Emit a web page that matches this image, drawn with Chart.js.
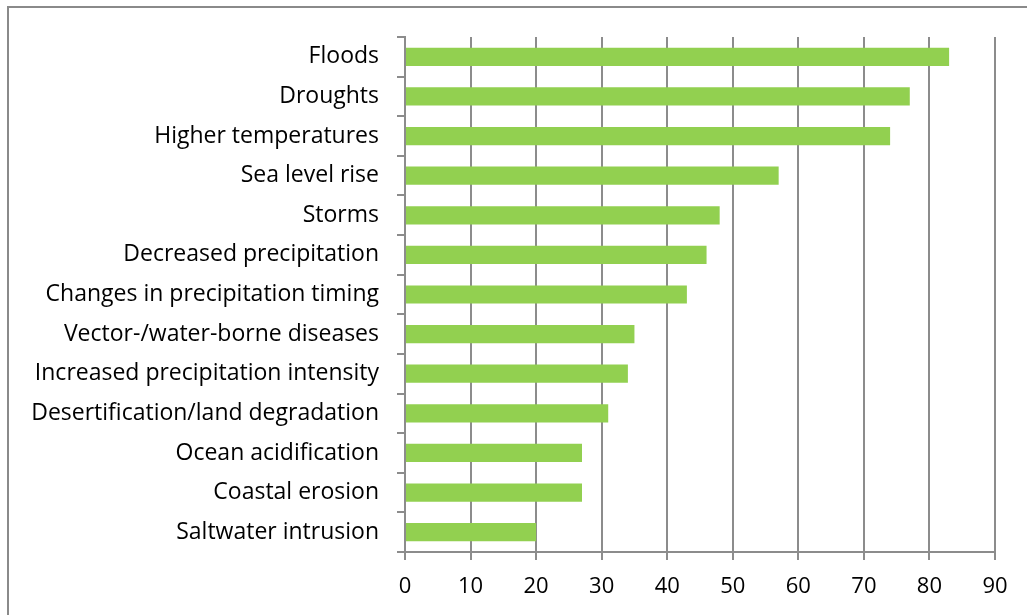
<!DOCTYPE html>
<html lang="en">
<head>
<meta charset="UTF-8">
<title>Climate hazards</title>
<script src="https://cdn.jsdelivr.net/npm/chart.js"></script>
<style>
  html, body { margin: 0; padding: 0; background: #fff; }
  #wrap { position: relative; width: 1027px; height: 615px; overflow: hidden; }
  #frame { position: absolute; left: 7px; top: 6px; width: 1100px; height: 700px;
           border-left: 2px solid #8a8a8a; border-top: 2px solid #8a8a8a; }
  canvas { position: absolute; left: 0; top: 0; }
</style>
</head>
<body>
<div id="wrap">
  <div id="frame"></div>
  <canvas id="myChart" width="1027" height="615"></canvas>
</div>
<script>
  // hazards, top to bottom
  var hazards = ['Floods', 'Droughts', 'Higher temperatures', 'Sea level rise', 'Storms',
    'Decreased precipitation', 'Changes in precipitation timing', 'Vector-/water-borne diseases',
    'Increased precipitation intensity', 'Desertification/land degradation', 'Ocean acidification',
    'Coastal erosion', 'Saltwater intrusion'];
  var counts = [83, 77, 74, 57, 48, 46, 43, 35, 34, 31, 27, 27, 20];
  var xMin = 0, xMax = 90, xStep = 10;

  var gridCol = '#8c8c8c';
  const ctx = document.getElementById('myChart').getContext('2d');
  new Chart(ctx, {
    type: 'bar',
    data: {
      labels: hazards,
      datasets: [{
        data: counts,
        backgroundColor: '#92d050',
        borderWidth: 0,
        barPercentage: 0.46,
        categoryPercentage: 1
      }]
    },
    options: {
      indexAxis: 'y',
      responsive: false,
      animation: false,
      layout: { padding: { left: 0, top: 37, right: 32, bottom: 0 } },
      plugins: { legend: { display: false }, tooltip: { enabled: false } },
      scales: {
        x: {
          min: xMin, max: xMax,
          ticks: { stepSize: xStep, color: '#000', font: { family: 'Open Sans', size: 22 }, padding: 14 },
          grid: { color: gridCol, lineWidth: 2, tickLength: 8 },
          border: { color: gridCol, width: 2 },
          afterFit: function (s) { s.height = 63; }
        },
        y: {
          ticks: { color: '#000', font: { family: 'Open Sans', size: 23 }, padding: 18 },
          grid: { offset: true, drawOnChartArea: false, color: gridCol, lineWidth: 2, tickLength: 8 },
          border: { color: gridCol, width: 2 },
          afterFit: function (s) { s.width = 405; }
        }
      }
    }
  });
</script>
</body>
</html>
